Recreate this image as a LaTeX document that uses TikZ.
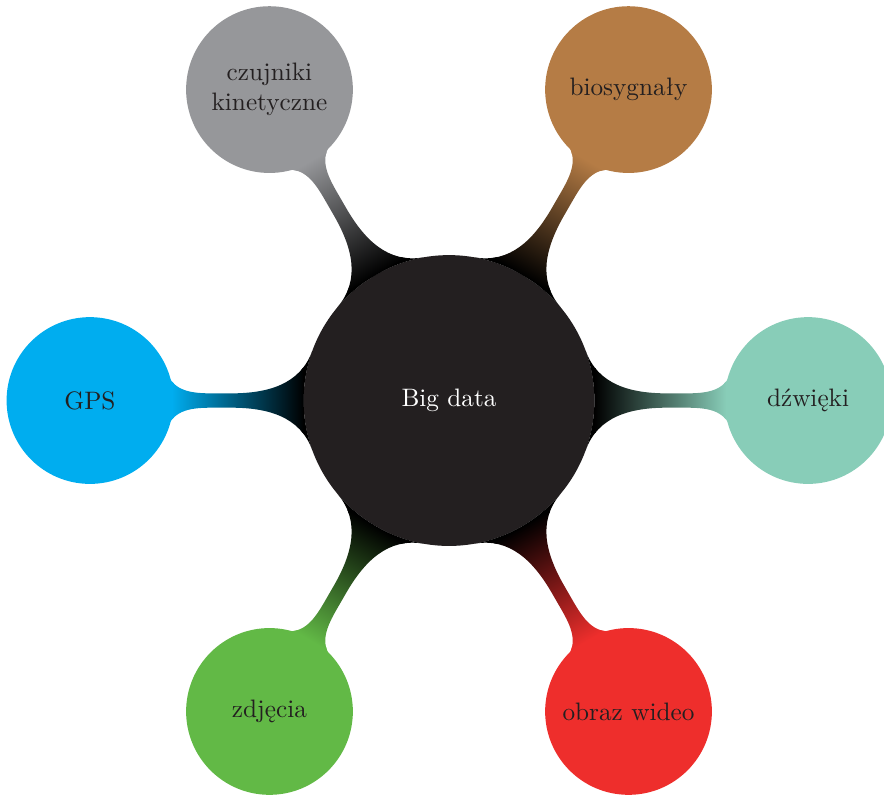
\documentclass[tikz,border=0pt]{standalone}
\usepackage{tikz}
\usetikzlibrary{mindmap}
\usepackage{xcolor}

\definecolor{rootfill}{HTML}{231F20}
\definecolor{soundcol}{HTML}{88CDB8}
\definecolor{biocol}{HTML}{B57C45}
\definecolor{kinecol}{HTML}{96979A}
\definecolor{gpscol}{HTML}{00ADEF}
\definecolor{photocol}{HTML}{62B946}
\definecolor{videocol}{HTML}{EE2E2C}
\definecolor{txtcol}{HTML}{231F20}

\begin{document}
\begin{tikzpicture}[mindmap, every node/.style=concept,
  root concept/.append style={concept color=black, fill=rootfill, draw=none, minimum size=4.05cm,
    text width=3cm, align=center, font=\normalsize, text=white!90},
  level 1/.append style={level distance=5cm},
  level 1 concept/.append style={minimum size=2.28cm, text width=1.85cm, align=center,
    font=\normalsize, text=txtcol}]
\useasboundingbox (-6.253,-5.480) rectangle (6.058,5.578);

% Big data in the middle, six sources around it
\node[root concept] (bigdata) {Big data}
  child[grow=0, concept color=soundcol] {node (sound) {dźwięki}}
  child[grow=60, concept color=biocol] {node (bio) {biosygnały}}
  child[grow=120, concept color=kinecol] {node (kine) {czujniki\\kinetyczne}}
  child[grow=180, concept color=gpscol] {node (gps) {GPS}}
  child[grow=240, concept color=photocol] {node (photo) {zdjęcia}}
  child[grow=300, concept color=videocol] {node (video) {obraz wideo}};

\end{tikzpicture}
\end{document}
